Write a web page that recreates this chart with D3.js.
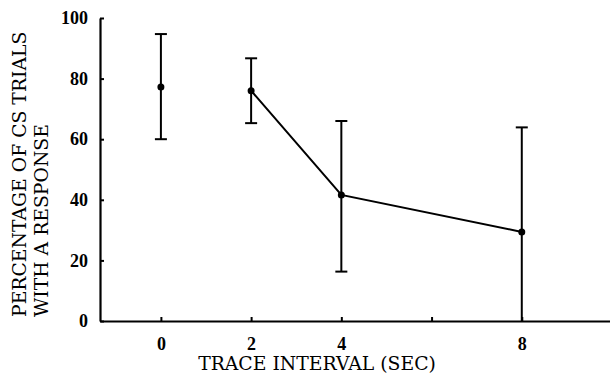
<!DOCTYPE html>
<html>
<head>
<meta charset="utf-8">
<script src="https://cdn.jsdelivr.net/npm/d3@7"></script>
<style>
  body { margin: 0; background: #fff; }
  svg { display: block; }
  .tick text { font-family: "Liberation Serif", serif; font-weight: bold; font-size: 18px; }
  .title { font-family: "DejaVu Serif", serif; font-size: 18.8px; }
</style>
</head>
<body>
<svg width="610" height="374"></svg>
<script>
// trace interval (sec) for each group
var intervals = [0, 2, 4, 8]
// mean percentage of CS trials with a response
var means = [77.2, 76, 41.6, 29.4]
// error bar ends
var upper = [94.7, 86.7, 66, 63.9]
var lower = [60, 65.3, 16.3, 0]
// only the trace groups are joined by the line
var lineIntervals = [2, 4, 8]
var xTicks = [0, 2, 4, 6, 8]
var xTickLabels = ['0', '2', '4', '', '8']
var yTicks = [0, 20, 40, 60, 80, 100]

var points = intervals.map(function(d, i) {
  return { x: d, mean: means[i], hi: upper[i], lo: lower[i] }
})

const svg = d3.select('svg')

const xScale = d3
  .scaleLinear()
  .domain([-1.35, 10])
  .range([100, 612])

const yScale = d3
  .scaleLinear()
  .domain([0, 100])
  .range([321, 18])

// x axis, ticks point up into the plot
svg
  .append('g')
  .attr('transform', 'translate(0, 321)')
  .call(
    d3
      .axisBottom(xScale)
      .tickValues(xTicks)
      .tickFormat(function(d, i) { return xTickLabels[i] })
      .tickSizeInner(-4)
      .tickSizeOuter(0)
      .tickPadding(16)
  )

// y axis, ticks point right
svg
  .append('g')
  .attr('transform', 'translate(100, 0)')
  .call(
    d3
      .axisLeft(yScale)
      .tickValues(yTicks)
      .tickSizeInner(-4)
      .tickSizeOuter(0)
      .tickPadding(12)
  )

svg.selectAll('.domain').attr('stroke-width', 2.2)
svg.selectAll('.tick line').attr('stroke-width', 2)

// error bars
var bars = svg.append('g').attr('stroke', '#000').attr('stroke-width', 2)
bars
  .selectAll('.stem')
  .data(points)
  .enter()
  .append('line')
  .attr('x1', d => xScale(d.x))
  .attr('x2', d => xScale(d.x))
  .attr('y1', d => yScale(d.hi))
  .attr('y2', d => yScale(d.lo))

bars
  .selectAll('.cap')
  .data(points.flatMap(d => [{ x: d.x, v: d.hi }, { x: d.x, v: d.lo }]).filter(d => d.v > 0))
  .enter()
  .append('line')
  .attr('x1', d => xScale(d.x) - 6)
  .attr('x2', d => xScale(d.x) + 6)
  .attr('y1', d => yScale(d.v))
  .attr('y2', d => yScale(d.v))

// connecting line
var linePts = points.filter(d => lineIntervals.indexOf(d.x) >= 0)
svg
  .append('path')
  .datum(linePts)
  .attr('fill', 'none')
  .attr('stroke', '#000')
  .attr('stroke-width', 2)
  .attr('d', d3.line().x(d => xScale(d.x)).y(d => yScale(d.mean)))

// means
svg
  .selectAll('.dot')
  .data(points)
  .enter()
  .append('circle')
  .attr('cx', d => xScale(d.x))
  .attr('cy', d => yScale(d.mean))
  .attr('r', 3.5)
  .attr('fill', '#000')

// axis titles
svg
  .append('text')
  .attr('class', 'title')
  .attr('x', 317)
  .attr('y', 370)
  .attr('text-anchor', 'middle')
  .text('TRACE INTERVAL (SEC)')

var yTitle = svg
  .append('text')
  .attr('class', 'title')
  .attr('transform', 'translate(26, 317) rotate(-90)')
yTitle.append('tspan').attr('x', 0).attr('y', 0).text('PERCENTAGE OF CS TRIALS')
yTitle.append('tspan').attr('x', 0).attr('y', 21.5).text('WITH A RESPONSE')
</script>
</body>
</html>
